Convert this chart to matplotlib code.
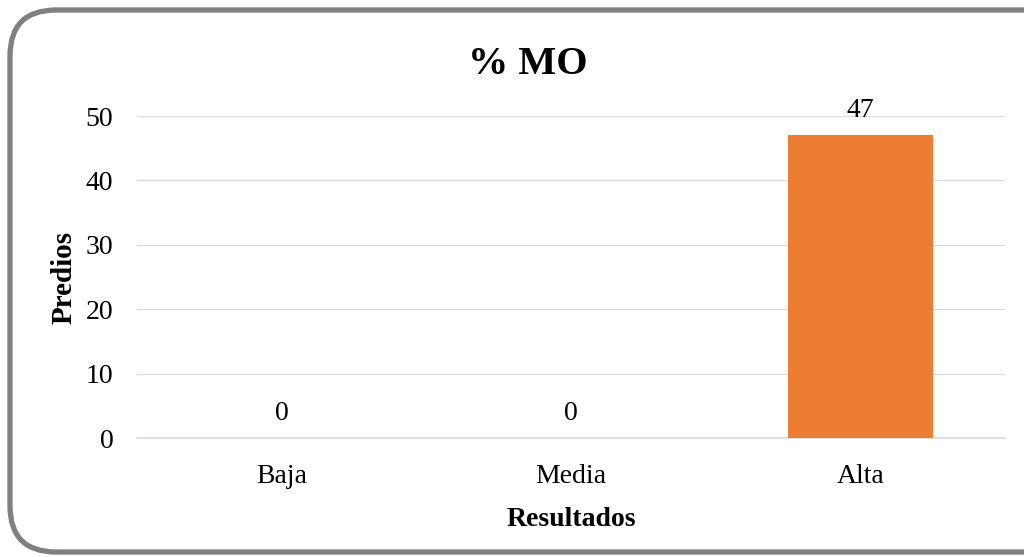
import numpy as np
import matplotlib.pyplot as plt
from matplotlib.patches import FancyBboxPatch

# Data
categorias = ['Baja', 'Media', 'Alta']
predios = [0, 0, 47]

plt.rcParams['font.family'] = ['Liberation Serif', 'DejaVu Serif']

fig = plt.figure(figsize=(10.24, 5.57), dpi=100)
ax = fig.add_axes([0.1338, 0.2136, 0.8476, 0.5781])

x = np.arange(len(categorias))
bars = ax.bar(x, predios, width=0.5, color='#ed7d31', zorder=3)
for xi, v in zip(x, predios):
    ax.annotate(str(v), (xi, v), xytext=(0, 9), textcoords='offset points',
                ha='center', va='bottom', fontsize=20)

ax.set_xlim(-0.5, 2.5)
ax.set_ylim(0, 50)
ax.set_yticks(np.arange(0, 51, 10))
ax.set_xticks(x)
ax.set_xticklabels(categorias)
ax.tick_params(axis='both', length=0, labelsize=20)
ax.tick_params(axis='y', pad=17)
ax.tick_params(axis='x', pad=18.5)
ax.grid(axis='y', color='#d9dce1', linewidth=1, zorder=0)
ax.axhline(0, color='#d9dce1', linewidth=1.2, zorder=1, clip_on=False)
for s in ax.spines.values():
    s.set_visible(False)

ax.set_xlabel('Resultados', fontsize=20, fontweight='bold', labelpad=13)
ax.set_ylabel('Predios', fontsize=21, fontweight='bold', labelpad=6)
fig.text(0.515, 0.885, '% MO', ha='center', va='center', fontsize=29, fontweight='bold')

# rounded border
border = FancyBboxPatch((10 / 1024, 5 / 557), 1100 / 1024, 542 / 557,
                        boxstyle='round,pad=0,rounding_size=0.045',
                        transform=fig.transFigure, fill=False,
                        edgecolor='#808080', linewidth=3.8,
                        mutation_aspect=1024 / 557)
fig.patches.append(border)

plt.savefig('out.png', dpi=100)
